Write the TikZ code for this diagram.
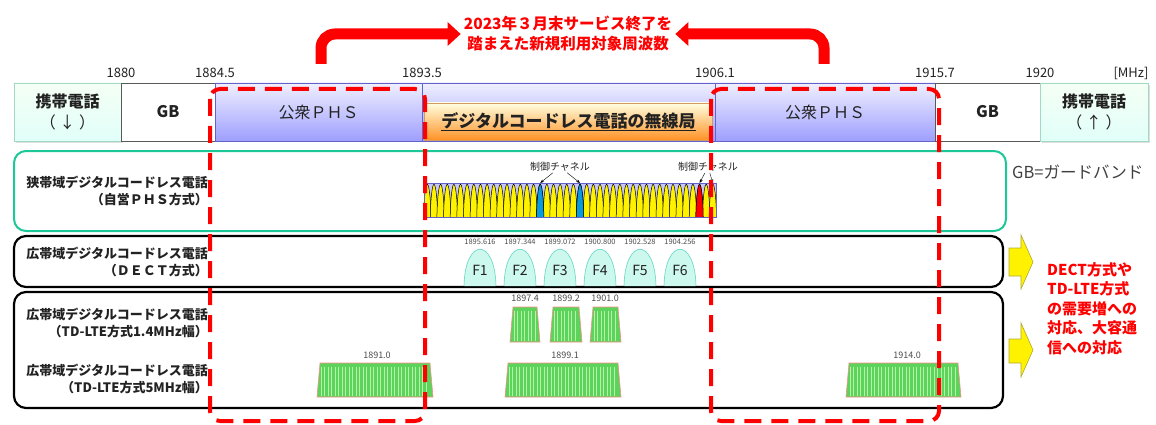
\documentclass[tikz,border=0pt]{standalone}
\usepackage{fontspec}
\setmainfont{Noto Sans CJK JP}
\usetikzlibrary{arrows.meta,shadows}

\definecolor{mintdark}{HTML}{A2D9C2}
\definecolor{phsline}{HTML}{6262C8}
\definecolor{rowgreen}{HTML}{1CC898}
\definecolor{chblue}{HTML}{0A9BDC}
\definecolor{bellfill}{HTML}{CCF8EE}
\definecolor{bellline}{HTML}{62D8C2}
\definecolor{ltegreen}{HTML}{5CD35A}
\definecolor{ltelight}{HTML}{B4F3A8}
\definecolor{textdark}{HTML}{222222}

\tikzset{
  mintcell/.style={draw=mintdark, top color=green!4, bottom color=green!20!cyan!12,
    minimum height=58pt, inner sep=0pt, outer sep=0pt, align=center,
    font=\fontsize{16}{25}\selectfont\bfseries, text=textdark,
    drop shadow={opacity=0.25, shadow xshift=2pt, shadow yshift=-2pt}},
  gbcell/.style={draw=black!65, fill=white, minimum height=58pt, inner sep=0pt,
    outer sep=0pt, font=\fontsize{16}{18}\selectfont\bfseries, text=textdark},
  phscell/.style={draw=phsline, top color=blue!6, bottom color=blue!38,
    minimum height=58pt, inner sep=0pt, outer sep=0pt,
    font=\fontsize{16}{18}\selectfont, text=textdark},
  radiobox/.style={draw=orange!70!black!60, top color=yellow!12, bottom color=orange!85,
    minimum height=37pt, inner sep=0pt, outer sep=0pt,
    font=\fontsize{17}{19}\selectfont\bfseries, text=textdark},
  freq/.style={font=\fontsize{13}{15}\selectfont, text=textdark, inner sep=0pt},
  rowlabel/.style={anchor=east, align=right, inner sep=0pt, text=textdark,
    font=\fontsize{13}{17}\selectfont\bfseries},
  redarrow/.style={draw=red, line width=11pt, rounded corners=14pt,
    -{Triangle[length=13pt,width=23pt]}},
  redbox/.style={draw=red, line width=4pt, dash pattern=on 17pt off 10pt,
    rounded corners=10pt},
  smallfreq/.style={font=\fontsize{7.5}{9}\selectfont, text=black!70, inner sep=0pt},
  ltefreq/.style={font=\fontsize{9}{11}\selectfont, text=black!70, inner sep=0pt},
  yellowarrow/.style={draw=olive!70, fill=yellow, line width=0.6pt},
}

% one lobe of the PHS comb: index, colour
\newcommand{\phslobe}[2]{%
  \pgfmathsetmacro\cx{424+6.64*(#1+0.5)}
  \path[draw=black, line width=0.5pt, fill=#2] (\cx-3.7,217) .. controls (\cx-3.2,192) and (\cx-1,184) .. (\cx,184)
    .. controls (\cx+1,184) and (\cx+3.2,192) .. (\cx+3.7,217);
}
% one TD-LTE block: left, right, top, bottom
\newcommand{\lteblock}[4]{%
  \path[draw=red!45, line width=0.6pt, fill=ltegreen] (#1,#4) -- (#1+3,#3) -- (#2-3,#3) -- (#2,#4) -- cycle;
  \pgfmathsetmacro\la{#1+4}\pgfmathsetmacro\lb{#1+7.5}\pgfmathsetmacro\lc{#2-4}
  \foreach \s in {\la,\lb,...,\lc}
    \path[draw=ltelight, line width=0.9pt] (\s,#3+4) -- (\s,#4-1);
}

\begin{document}
\begin{tikzpicture}[x=1pt,y=-1pt]
\useasboundingbox (0,0) rectangle (1156,425);

% band plan
\node[mintcell, minimum width=107pt] (mobdown) at (67.5,112) {携帯電話\\[-4pt]\mdseries（ ↓ ）};
\node[gbcell, minimum width=94pt] (gbleft) at (168,112) {GB};
\node[phscell, minimum width=207pt] (phsleft) at (318.5,112) {公衆ＰＨＳ};
\node[phscell, minimum width=293pt] (mid) at (568.5,112) {};
\node[radiobox, minimum width=288pt] (radio) at (568.5,121.5) {\underline{デジタルコードレス電話の無線局}};
\node[phscell, minimum width=220pt] (phsright) at (825,112) {公衆ＰＨＳ};
\node[gbcell, minimum width=105pt] (gbright) at (987.5,112) {GB};
\node[mintcell, minimum width=108pt] (mobup) at (1094,112) {携帯電話\\[-4pt]\mdseries（ ↑ ）};

\node[freq] (f1880) at (121,73) {1880};
\node[freq] (f18845) at (215,73) {1884.5};
\node[freq] (f18935) at (422,73) {1893.5};
\node[freq] (f19061) at (715,73) {1906.1};
\node[freq] (f19157) at (935,73) {1915.7};
\node[freq] (f1920) at (1040,73) {1920};
\node[freq] (mhz) at (1131,73) {[MHz]};

% new band
\node[align=center, text=red, inner sep=3pt, font=\fontsize{15.5}{20}\selectfont\bfseries] (title) at (568,34)
  {2023年３月末サービス終了を\\踏まえた新規利用対象周波数};
\coordinate (lfrom) at (321,64);
\coordinate (rfrom) at (824,64);
\path[redarrow] (lfrom) |- (title.west);
\path[redarrow] (rfrom) |- (title.east);

% rows
\draw[rowgreen, line width=2pt, rounded corners=12pt] (14,151) rectangle (1006,231);
\draw[black, line width=2.2pt, rounded corners=12pt] (14,236) rectangle (1003,287);
\draw[black, line width=2.2pt, rounded corners=12pt] (14,292) rectangle (1003,408);

\node[rowlabel] (nbphs) at (208,191) {狭帯域デジタルコードレス電話\\（自営ＰＨＳ方式）};
\node[rowlabel] (wbdect) at (208,262) {広帯域デジタルコードレス電話\\（ＤＥＣＴ方式）};
\node[rowlabel] (wblte14) at (208,323) {広帯域デジタルコードレス電話\\（TD-LTE方式1.4MHz幅）};
\node[rowlabel] (wblte5) at (208,379) {広帯域デジタルコードレス電話\\（TD-LTE方式5MHz幅）};

\node[anchor=west, inner sep=0pt, text=black!75, font=\fontsize{16.5}{18}\selectfont] (gbnote) at (1012,172) {GB=ガードバンド};

% PHS comb
\path[fill=blue!22] (424,183) rectangle (716,217);
\foreach \i in {0,...,43}{
  \phslobe{\i}{yellow}
}
\phslobe{17}{chblue}
\phslobe{23}{chblue}
\phslobe{41}{red}
\path[draw=phsline, line width=1pt] (424,183) rectangle (716,217);

\coordinate (ch17) at (540.2,183);
\coordinate (ch23) at (580,183);
\coordinate (ch41) at (699.6,183);
\coordinate (ch43) at (712.8,183);
\node[inner sep=1pt, text=textdark, font=\fontsize{10}{12}\selectfont] (ctlone) at (560,167) {制御チャネル};
\node[inner sep=1pt, text=textdark, font=\fontsize{10}{12}\selectfont] (ctltwo) at (708,167) {制御チャネル};
\path[draw, thin, -{Stealth[length=4pt]}] (ctlone) -- (ch17);
\path[draw, thin, -{Stealth[length=4pt]}] (ctlone) -- (ch23);
\path[draw, thin, -{Stealth[length=4pt]}] (ctltwo) -- (ch41);
\path[draw, thin, -{Stealth[length=4pt]}] (ctltwo) -- (ch43);

% DECT carriers
\foreach \n/\x/\f in {1/480/1895.616, 2/520/1897.344, 3/560/1899.072, 4/600/1900.800, 5/640/1902.528, 6/680/1904.256}{
  \path[draw=bellline, fill=bellfill, line width=0.6pt] (\x-16,286) .. controls (\x-15,237) and (\x+15,237) .. (\x+16,286);
  \node[font=\fontsize{14}{16}\selectfont, text=textdark, inner sep=0pt] (dect\n) at (\x,270) {F\n};
  \node[smallfreq] (dectf\n) at (\x,242) {\f};
}

% TD-LTE carriers
\lteblock{510}{540}{307}{342}
\lteblock{550}{582}{307}{342}
\lteblock{590}{621}{307}{342}
\node[ltefreq] (lte1) at (525,298) {1897.4};
\node[ltefreq] (lte2) at (566,298) {1899.2};
\node[ltefreq] (lte3) at (605,298) {1901.0};
\lteblock{317}{433}{363}{397}
\lteblock{505}{621}{363}{397}
\lteblock{846}{961}{363}{397}
\node[ltefreq] (lte4) at (377,355) {1891.0};
\node[ltefreq] (lte5) at (565,355) {1899.1};
\node[ltefreq] (lte6) at (907,355) {1914.0};

% end of service
\draw[redbox] (210,89) rectangle (425,421);
\draw[redbox] (711,89) rectangle (939,421);

% demand
\path[yellowarrow] (1009,248) -- (1021,248) -- (1021,235) -- (1033,262) -- (1021,289) -- (1021,276) -- (1009,276) -- cycle;
\path[yellowarrow] (1009,339) -- (1021,339) -- (1021,323) -- (1033,350) -- (1021,377) -- (1021,363) -- (1009,363) -- cycle;
\node[anchor=west, align=left, inner sep=0pt, text=red, font=\fontsize{15}{19.5}\selectfont\bfseries] (demand) at (1047,308.5)
  {DECT方式や\\TD-LTE方式\\の需要増への\\対応、大容通\\信への対応};
\end{tikzpicture}
\end{document}
